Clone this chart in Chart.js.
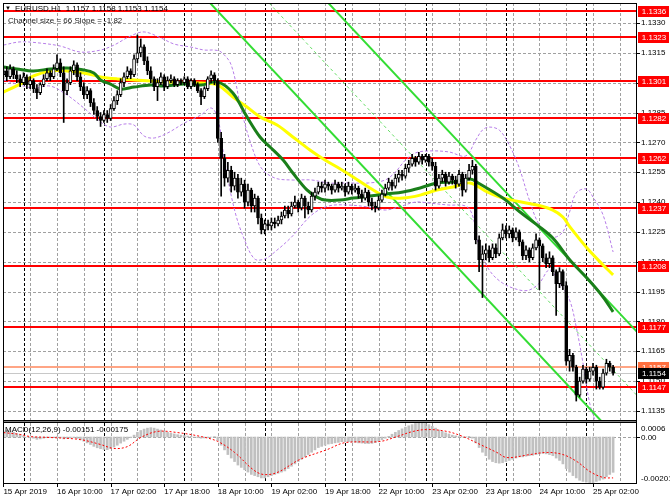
<!DOCTYPE html>
<html><head><meta charset="utf-8">
<script src="https://cdn.jsdelivr.net/npm/chart.js@4.4.1/dist/chart.umd.min.js"></script>
<style>html,body{margin:0;padding:0;background:#fff;overflow:hidden}canvas{display:block}</style>
</head><body>
<canvas id="c" width="670" height="502"></canvas>
<script>
// ---------- DATA ----------
const timeLabels = ["15 Apr 2019","16 Apr 10:00","17 Apr 02:00","17 Apr 18:00","18 Apr 10:00","19 Apr 02:00","19 Apr 18:00","22 Apr 10:00","23 Apr 02:00","23 Apr 18:00","24 Apr 10:00","25 Apr 02:00"];
const labelBars = [0,16,32,48,64,80,96,112,128,144,160,176];
const gridBars = [0,8,16,24,32,40,48,56,64,72,80,88,96,104,112,120,128,136,144,152,160,168,176,184];
const daySeparators = [6,30,54,78,102,126,150,174];
const priceTicks = [1.1135,1.1150,1.1165,1.1180,1.1195,1.1210,1.1225,1.1240,1.1255,1.1270,1.1285,1.1300,1.1315,1.1330];
const levels = [1.1336,1.1323,1.1301,1.1282,1.1262,1.1237,1.1208,1.1177,1.1147];
const askLine = 1.1157;
const bidLine = 1.1154;

const opens = [1.1304,1.1306,1.1303,1.1307,1.1304,1.1302,1.1300,1.1303,1.1299,1.1301,
1.1297,1.1295,1.1299,1.1302,1.1305,1.1303,1.1307,1.1310,1.1305,1.1296,
1.1300,1.1306,1.1309,1.1303,1.1298,1.1294,1.1296,1.1290,1.1286,1.1283,
1.1281,1.1284,1.1282,1.1287,1.1291,1.1294,1.1300,1.1303,1.1306,1.1304,
1.1312,1.1315,1.1318,1.1311,1.1306,1.1302,1.1298,1.1300,1.1303,1.1298,
1.1301,1.1302,1.1299,1.1301,1.1300,1.1302,1.1298,1.1301,1.1299,1.1296,
1.1293,1.1297,1.1302,1.1304,1.1301,1.1272,1.1262,1.1252,1.1256,1.1248,
1.1252,1.1245,1.1249,1.1240,1.1246,1.1238,1.1242,1.1232,1.1226,1.1229,
1.1228,1.1230,1.1229,1.1231,1.1233,1.1236,1.1234,1.1238,1.1240,1.1237,
1.1242,1.1238,1.1236,1.1243,1.1245,1.1248,1.1247,1.1249,1.1248,1.1246,
1.1249,1.1247,1.1248,1.1245,1.1248,1.1246,1.1247,1.1244,1.1242,1.1245,
1.1240,1.1238,1.1237,1.1241,1.1244,1.1247,1.1250,1.1248,1.1252,1.1254,
1.1253,1.1257,1.1259,1.1262,1.1260,1.1263,1.1261,1.1263,1.1260,1.1258,
1.1248,1.1252,1.1254,1.1250,1.1253,1.1251,1.1249,1.1254,1.1246,1.1252,
1.1256,1.1258,1.1221,1.1211,1.1214,1.1216,1.1212,1.1217,1.1214,1.1222,
1.1226,1.1224,1.1226,1.1222,1.1225,1.1220,1.1213,1.1216,1.1212,1.1217,
1.1221,1.1218,1.1212,1.1209,1.1212,1.1205,1.1199,1.1205,1.1198,1.1160,
1.1163,1.1157,1.1143,1.1150,1.1156,1.1151,1.1155,1.1157,1.1150,1.1147,
1.1154,1.1159,1.1157];
const highs = [1.1308,1.1308,1.1309,1.1308,1.1306,1.1304,1.1305,1.1304,1.1303,1.1302,
1.1299,1.1300,1.1304,1.1307,1.1306,1.1309,1.1314,1.1312,1.1308,1.1302,
1.1308,1.1311,1.1310,1.1305,1.1300,1.1298,1.1297,1.1292,1.1288,1.1285,
1.1286,1.1286,1.1289,1.1293,1.1296,1.1302,1.1305,1.1308,1.1307,1.1314,
1.1324,1.1322,1.1319,1.1313,1.1308,1.1303,1.1302,1.1305,1.1304,1.1303,
1.1304,1.1303,1.1302,1.1302,1.1303,1.1303,1.1302,1.1302,1.1300,1.1297,
1.1298,1.1303,1.1306,1.1305,1.1302,1.1275,1.1264,1.1260,1.1258,1.1255,
1.1254,1.1252,1.1251,1.1249,1.1247,1.1244,1.1243,1.1234,1.1231,1.1231,
1.1232,1.1232,1.1233,1.1235,1.1238,1.1238,1.1240,1.1243,1.1241,1.1244,
1.1243,1.1240,1.1245,1.1247,1.1250,1.1250,1.1251,1.1250,1.1249,1.1251,
1.1250,1.1250,1.1249,1.1250,1.1249,1.1249,1.1248,1.1246,1.1247,1.1246,
1.1242,1.1240,1.1243,1.1246,1.1249,1.1252,1.1251,1.1254,1.1256,1.1256,
1.1259,1.1261,1.1264,1.1263,1.1265,1.1264,1.1264,1.1264,1.1262,1.1260,
1.1254,1.1256,1.1255,1.1255,1.1254,1.1253,1.1256,1.1255,1.1254,1.1259,
1.1261,1.1259,1.1223,1.1218,1.1219,1.1218,1.1219,1.1219,1.1224,1.1229,
1.1228,1.1228,1.1227,1.1227,1.1226,1.1221,1.1218,1.1217,1.1219,1.1224,
1.1222,1.1219,1.1214,1.1215,1.1213,1.1206,1.1207,1.1206,1.1200,1.1166,
1.1164,1.1158,1.1152,1.1158,1.1157,1.1157,1.1159,1.1158,1.1152,1.1156,
1.1161,1.1160,1.1158];
const lows = [1.1302,1.1301,1.1302,1.1302,1.1300,1.1298,1.1299,1.1297,1.1297,1.1295,
1.1292,1.1294,1.1298,1.1301,1.1301,1.1302,1.1306,1.1303,1.1280,1.1294,
1.1299,1.1304,1.1301,1.1296,1.1292,1.1292,1.1288,1.1284,1.1281,1.1278,
1.1280,1.1280,1.1281,1.1286,1.1289,1.1293,1.1298,1.1302,1.1302,1.1303,
1.1310,1.1313,1.1309,1.1304,1.1300,1.1296,1.1291,1.1299,1.1296,1.1297,
1.1300,1.1298,1.1298,1.1299,1.1299,1.1297,1.1297,1.1298,1.1295,1.1289,
1.1292,1.1296,1.1300,1.1299,1.1270,1.1243,1.1248,1.1250,1.1245,1.1246,
1.1242,1.1243,1.1237,1.1238,1.1235,1.1235,1.1229,1.1224,1.1224,1.1226,
1.1226,1.1227,1.1228,1.1229,1.1232,1.1232,1.1233,1.1237,1.1235,1.1236,
1.1232,1.1234,1.1235,1.1241,1.1244,1.1245,1.1245,1.1246,1.1244,1.1245,
1.1245,1.1246,1.1243,1.1244,1.1244,1.1245,1.1242,1.1240,1.1241,1.1238,
1.1236,1.1235,1.1236,1.1240,1.1243,1.1246,1.1246,1.1247,1.1250,1.1251,
1.1252,1.1255,1.1258,1.1258,1.1259,1.1259,1.1260,1.1258,1.1256,1.1246,
1.1247,1.1250,1.1248,1.1249,1.1249,1.1247,1.1248,1.1243,1.1245,1.1251,
1.1254,1.1219,1.1205,1.1192,1.1211,1.1210,1.1211,1.1212,1.1213,1.1221,
1.1222,1.1222,1.1220,1.1221,1.1218,1.1211,1.1211,1.1210,1.1211,1.1216,
1.1196,1.1210,1.1207,1.1207,1.1203,1.1183,1.1197,1.1196,1.1158,1.1155,
1.1155,1.1140,1.1142,1.1149,1.1149,1.1150,1.1153,1.1146,1.1146,1.1146,
1.1153,1.1155,1.1153];
const closes = [1.1306,1.1303,1.1307,1.1304,1.1302,1.1300,1.1303,1.1299,1.1301,1.1297,
1.1295,1.1299,1.1302,1.1305,1.1303,1.1307,1.1310,1.1305,1.1296,1.1300,
1.1306,1.1309,1.1303,1.1298,1.1294,1.1296,1.1290,1.1286,1.1283,1.1281,
1.1284,1.1282,1.1287,1.1291,1.1294,1.1300,1.1303,1.1306,1.1304,1.1312,
1.1315,1.1318,1.1311,1.1306,1.1302,1.1298,1.1300,1.1303,1.1298,1.1301,
1.1302,1.1299,1.1301,1.1300,1.1302,1.1298,1.1301,1.1299,1.1296,1.1293,
1.1297,1.1302,1.1304,1.1301,1.1272,1.1262,1.1252,1.1256,1.1248,1.1252,
1.1245,1.1249,1.1240,1.1246,1.1238,1.1242,1.1232,1.1226,1.1229,1.1228,
1.1230,1.1229,1.1231,1.1233,1.1236,1.1234,1.1238,1.1240,1.1237,1.1242,
1.1238,1.1236,1.1243,1.1245,1.1248,1.1247,1.1249,1.1248,1.1246,1.1249,
1.1247,1.1248,1.1245,1.1248,1.1246,1.1247,1.1244,1.1242,1.1245,1.1240,
1.1238,1.1237,1.1241,1.1244,1.1247,1.1250,1.1248,1.1252,1.1254,1.1253,
1.1257,1.1259,1.1262,1.1260,1.1263,1.1261,1.1263,1.1260,1.1258,1.1248,
1.1252,1.1254,1.1250,1.1253,1.1251,1.1249,1.1254,1.1246,1.1252,1.1256,
1.1258,1.1221,1.1211,1.1214,1.1216,1.1212,1.1217,1.1214,1.1222,1.1226,
1.1224,1.1226,1.1222,1.1225,1.1220,1.1213,1.1216,1.1212,1.1217,1.1221,
1.1218,1.1212,1.1209,1.1212,1.1205,1.1199,1.1205,1.1198,1.1160,1.1163,
1.1157,1.1143,1.1150,1.1156,1.1151,1.1155,1.1157,1.1150,1.1147,1.1154,
1.1159,1.1157,1.1154];

// moving averages read at sample bars: [bar, price]
const yellowMA = [[0,1.12953],[5,1.12993],[9,1.13034],[14,1.13059],[19,1.13059],[24,1.13049],[29,1.13029],[34,1.13019],[39,1.13014],[44,1.13009],[49,1.13003],[59,1.12998],[64,1.12988],[68.5,1.12928],[72.7,1.12878],[76.6,1.12828],[81.7,1.12787],[86.4,1.12727],[91.5,1.12662],[96,1.12611],[99.6,1.12576],[104.4,1.12526],[109.4,1.12471],[114.5,1.12425],[119.3,1.12420],[124.4,1.12435],[129.4,1.12461],[134.2,1.12476],[139.3,1.12496],[144.4,1.12451],[149.1,1.12420],[159.3,1.12385],[164,1.12360],[167,1.12325],[169.1,1.12275],[174.2,1.12169],[179,1.12084],[182,1.12034]];
const greenMA = [[0,1.13079],[4,1.13069],[9,1.13059],[14,1.13069],[19,1.13074],[24,1.13064],[27,1.13049],[29,1.13014],[32,1.12993],[35,1.12968],[39,1.12978],[44,1.12988],[48,1.12983],[54,1.12993],[59,1.12988],[64,1.13003],[68.5,1.12948],[72.7,1.12828],[76.6,1.12727],[79.6,1.12677],[83.5,1.12611],[86.4,1.12546],[90.6,1.12461],[93.6,1.12425],[96,1.12410],[100.5,1.12410],[104.4,1.12420],[109.4,1.12430],[114.5,1.12441],[119.3,1.12451],[124.4,1.12471],[129.4,1.12496],[134.2,1.12501],[139.3,1.12516],[141.7,1.12496],[149.1,1.12420],[154.2,1.12350],[159.3,1.12285],[164,1.12219],[169.1,1.12109],[174.2,1.12018],[179,1.11923],[182,1.11848]];
const bandUpper = [[0,1.13189],[5,1.13205],[11,1.13199],[17,1.13184],[23,1.13154],[29,1.13164],[33,1.13189],[38,1.13235],[42,1.13255],[47,1.13225],[51,1.13194],[56,1.13179],[60,1.13164],[63,1.13164],[65,1.13154],[68,1.13089],[71,1.12863],[74,1.12687],[77,1.12571],[81,1.12521],[86,1.12511],[92,1.12511],[97,1.12496],[103,1.12496],[109,1.12496],[114,1.12511],[117,1.12551],[120,1.12611],[123,1.12647],[127,1.12657],[133,1.12652],[138,1.12632],[141,1.12712],[143,1.12762],[145,1.12777],[148,1.12762],[151,1.12687],[154,1.12571],[157,1.12410],[160,1.12285],[164,1.12224],[167,1.12250],[169,1.12350],[171,1.12446],[174,1.12466],[176,1.12425],[179,1.12335],[182,1.12149]];
const bandLower = [[0,1.13014],[4,1.12993],[9,1.12973],[14,1.12983],[19,1.12938],[24,1.12873],[29,1.12802],[32,1.12777],[36,1.12792],[39,1.12787],[42,1.12732],[45,1.12722],[49,1.12747],[54,1.12797],[59,1.12838],[62,1.12873],[64,1.12823],[66,1.12611],[69,1.12360],[72,1.12209],[75,1.12114],[78,1.12114],[81,1.12149],[86,1.12224],[92,1.12335],[97,1.12380],[103,1.12385],[109,1.12375],[114,1.12360],[118,1.12375],[123,1.12400],[127,1.12395],[133,1.12385],[138,1.12380],[140,1.12335],[142,1.12174],[145,1.12059],[149,1.11993],[154,1.11958],[157,1.11958],[160,1.11993],[163,1.12059],[166,1.11993],[169,1.11908],[171,1.11772],[173,1.11591],[175,1.11390],[177,1.11280]];
// regression channel end points: [bar, price]
const channelUpper = [[97,1.1340],[189,1.1175]];
const channelMiddle = [[79.3,1.1340],[189,1.1143]];
const channelLower = [[61.7,1.1340],[189,1.1111]];

const macdHist = [0.00025,0.0003,0.00025,0.0002,
0.00015,0.0001,0.00005,0,-0.00003,
-0.00005,-0.0001,-0.00008,-0.00005,-0.00003,-0.00002,0,
0.00002,-0.00002,-0.00008,-0.00006,-0.00004,-0.00003,-0.00006,
-0.00012,-0.00018,-0.00025,-0.00032,-0.0004,-0.00046,
-0.0005,-0.00053,-0.00054,-0.0005,-0.00043,
-0.00035,-0.00026,-0.00018,-0.0001,-0.00003,
0.00008,0.0002,0.00028,0.00034,0.00038,0.0004,
0.00038,0.00034,0.0003,0.00025,0.0002,
0.00016,0.00013,0.0001,0.00008,0.00006,0.00004,0.00003,
0,-0.00003,-0.00005,-0.00004,-0.00002,0,0.00002,
-0.00015,-0.00035,-0.00055,-0.00075,-0.0009,-0.00105,-0.0012,
-0.0013,-0.0014,-0.0015,-0.0016,-0.00165,-0.0017,-0.00175,
-0.00175,-0.0017,-0.00165,-0.0016,-0.00155,-0.0015,-0.00145,
-0.00135,-0.00125,-0.00115,-0.00105,-0.00095,-0.00085,-0.00075,-0.00065,
-0.00055,-0.00045,-0.0004,-0.00035,-0.0003,-0.00028,-0.00025,-0.00023,
-0.0002,-0.0002,-0.0002,-0.00022,-0.00023,-0.00025,-0.00026,-0.00028,-0.00028,-0.00027,
-0.00024,-0.00018,-0.00012,-0.00005,0.00003,0.00012,0.0002,
0.00028,0.00035,0.00042,0.00048,0.00053,0.00058,0.0006,
0.0006,0.00058,0.00053,0.00046,0.00038,0.0003,0.00024,
0.00018,0.00013,0.00008,0.00005,0.00002,0,0.00001,0.00003,
-0.00005,-0.00025,-0.00045,-0.00065,-0.0008,-0.00095,-0.00105,-0.0011,
-0.00112,-0.0011,-0.00105,-0.001,-0.00095,-0.0009,-0.00085,
-0.00085,-0.00082,-0.0008,-0.00078,-0.00075,-0.00072,-0.0007,
-0.00072,-0.00075,-0.0008,-0.0009,-0.001,-0.00115,
-0.00135,-0.0015,-0.00165,-0.00175,-0.00185,-0.0019,-0.00193,
-0.00195,-0.00195,-0.0019,-0.00185,-0.0018,-0.0017,-0.0016,-0.00151];
const macdSignal = [[0,0.00019],[5,0.00011],[8,0.00002],[14,-0.00002],[23,-0.00011],[29,-0.00032],[33,-0.00049],[37,-0.00041],[41,-0.00002],[46,0.00024],[52,0.00019],[59,0.00002],[64,-0.00019],[69,-0.00066],[74.5,-0.00139],[77.5,-0.0016],[81.7,-0.00152],[88.5,-0.00096],[96.6,-0.00054],[102,-0.00024],[112.4,-0.00019],[117.5,0.00002],[122.3,0.00024],[126.5,0.00032],[132.4,0.00024],[137.2,0.00002],[142.3,-0.00032],[147.3,-0.00066],[150.3,-0.00088],[157.2,-0.00075],[162.3,-0.00066],[167,-0.00075],[171.2,-0.00105],[175.1,-0.00148],[179,-0.00173],[182,-0.00175]];

// ---------- CHART ----------
const FONT = '"Liberation Sans", Arial, sans-serif';
Chart.defaults.font.family = FONT;
Chart.defaults.font.size = 8;
Chart.defaults.color = '#000';

const pts = a => a.map(([x, y]) => ({x, y}));
const priceClip = {left: 0, top: 0, right: 0, bottom: -64};
const macdClip = {left: 0, top: -420, right: 0, bottom: 0};

const wickData = closes.map((c, i) => ({x: i, y: [lows[i], highs[i]]}));
const bodyData = closes.map((c, i) => ({x: i, y: [opens[i], c]}));
const bodyFill = closes.map((c, i) => c >= opens[i] ? '#ffffff' : '#000000');

const lineDS = (data, color, width, dash, order, axis, clip, tension) => ({
  type: 'line', data: pts(data), borderColor: color, borderWidth: width, borderDash: dash || [],
  pointRadius: 0, fill: false, tension: tension, order: order, yAxisID: axis || 'y', clip: clip || priceClip
});

const PRICE_MAX = 1.134005, PRICE_MIN = 1.10983;
const MACD_MAX = 0.018572, MACD_MIN = -0.00201;

function dashV(ctx, px, y0, y1, on, off) { for (let yy = y0; yy < y1; yy += on + off) ctx.fillRect(px, yy, 1, Math.min(on, y1 - yy)); }
function dashH(ctx, py, x0, x1, on, off) { for (let xx = x0; xx < x1; xx += on + off) ctx.fillRect(xx, py, Math.min(on, x1 - xx), 1); }

function drawGrid(chart) {
  const ctx = chart.ctx, a = chart.chartArea, sx = chart.scales.x, sy = chart.scales.y, s2 = chart.scales.y2;
  ctx.save();
  ctx.fillStyle = '#a0a0a0';
  gridBars.forEach(i => dashV(ctx, Math.round(sx.getPixelForValue(i)), a.top, a.bottom, 3, 2));
  priceTicks.forEach(v => dashH(ctx, Math.round(sy.getPixelForValue(v)), a.left, a.right, 3, 2));
  dashH(ctx, Math.round(s2.getPixelForValue(0)), a.left, a.right, 3, 2);
  ctx.fillStyle = '#000000';
  daySeparators.forEach(i => dashV(ctx, Math.round(sx.getPixelForValue(i)), a.top, a.bottom, 3, 2));
  priceTicks.forEach(v => ctx.fillRect(a.right, Math.round(sy.getPixelForValue(v)), 3, 1));
  labelBars.forEach(i => ctx.fillRect(Math.round(sx.getPixelForValue(i)), a.bottom, 1, 3));
  ctx.restore();
}

const annot = {
  id: 'annot',
  beforeDatasetsDraw(chart) {
    const {ctx, chartArea: a, scales: {y}} = chart;
    drawGrid(chart);
    ctx.save();
    ctx.fillStyle = '#c8c8c8';
    ctx.fillRect(a.left, Math.round(y.getPixelForValue(bidLine)), a.right - a.left, 1);
    ctx.fillStyle = '#ffa585';
    ctx.fillRect(a.left, Math.round(y.getPixelForValue(askLine)) - 1, a.right - a.left, 2);
    ctx.fillStyle = '#ff0000';
    levels.forEach(v => {
      const py = Math.round(y.getPixelForValue(v));
      ctx.fillRect(a.left, py - 1, a.right - a.left, 2);
    });
    ctx.restore();
  },
  afterDraw(chart) {
    const {ctx, chartArea: a, scales: {y, y2}} = chart;
    ctx.save();
    const sepTop = a.bottom - 64;
    ctx.fillStyle = '#000'; ctx.fillRect(a.left, sepTop, a.right - a.left, 1);
    ctx.fillStyle = '#808080'; ctx.fillRect(a.left, sepTop + 1, a.right - a.left, 1);
    ctx.fillStyle = '#000'; ctx.fillRect(a.left, sepTop + 2, a.right - a.left, 1);
    ctx.strokeStyle = '#000'; ctx.lineWidth = 1; ctx.setLineDash([]);
    ctx.strokeRect(a.left + 0.5, a.top + 0.5, a.right - a.left - 1, a.bottom - a.top - 1);
    ctx.font = '8px ' + FONT;
    ctx.textBaseline = 'middle';
    ctx.fillStyle = '#fff'; ctx.fillRect(a.right + 1, sepTop - 1, 32, 66);
    ctx.fillStyle = '#000'; ctx.textAlign = 'left';
    ctx.fillText('0.0006', a.right + 4, sepTop + 9);
    ctx.fillText('0.00', a.right + 4, Math.round(y2.getPixelForValue(0)) + 1);
    ctx.fillText('-0.00201', a.right + 4, a.bottom - 5);
    ctx.fillRect(a.right, Math.round(y2.getPixelForValue(0)), 3, 1);
    ctx.textAlign = 'center';
    const box = (v, bg) => {
      const py = Math.round(y.getPixelForValue(v));
      ctx.fillStyle = bg; ctx.fillRect(a.right + 1, py - 5, 31, 11);
      ctx.fillStyle = '#fff'; ctx.fillText(v.toFixed(4), a.right + 17, py + 1);
    };
    levels.forEach(v => box(v, '#ff0000'));
    box(askLine, '#ff7040');
    box(bidLine, '#000000');
    ctx.textAlign = 'left'; ctx.fillStyle = '#000';
    ctx.font = '6px ' + FONT; ctx.fillText('\u25BC', a.left + 2, a.top + 5);
    ctx.font = '8px ' + FONT;
    ctx.fillText('EURUSD,H1  1.1157 1.1158 1.1153 1.1154', a.left + 12, a.top + 6);
    ctx.fillStyle = '#222';
    ctx.fillText('Channel size = 66 Slope = -1.82', a.left + 5, a.top + 18);
    ctx.fillStyle = '#000';
    ctx.fillText('MACD(12,26,9) -0.00151 -0.00175', a.left + 2, sepTop + 10);
    ctx.restore();
  }
};

new Chart(document.getElementById('c'), {
  type: 'line',
  data: {
    datasets: [
      {type: 'bar', data: bodyData, backgroundColor: bodyFill, borderColor: '#000', borderWidth: 1,
       borderSkipped: false, barThickness: 3, minBarLength: 1, grouped: false, order: 1, yAxisID: 'y', clip: priceClip},
      {type: 'bar', data: wickData, backgroundColor: '#000', borderWidth: 0,
       barThickness: 1, grouped: false, order: 2, yAxisID: 'y', clip: priceClip},
      lineDS(greenMA, '#1a7f1a', 3, null, 3, 'y', priceClip, 0.35),
      lineDS(yellowMA, '#ffff00', 3, null, 4, 'y', priceClip, 0.35),
      lineDS(channelUpper, '#33dd33', 2, null, 5, 'y', priceClip, 0),
      lineDS(channelLower, '#33dd33', 2, null, 5, 'y', priceClip, 0),
      lineDS(channelMiddle, '#66dd66', 1, [3, 3], 5, 'y', priceClip, 0),
      lineDS(bandUpper, '#b77ee8', 1, [3, 2], 6, 'y', priceClip, 0.35),
      lineDS(bandLower, '#b77ee8', 1, [3, 2], 6, 'y', priceClip, 0.35),
      lineDS(macdSignal, '#ff0000', 1, [2, 2], 7, 'y2', macdClip, 0.35),
      {type: 'bar', data: macdHist.map((v, i) => ({x: i, y: v})), backgroundColor: '#c0c0c0', borderWidth: 0,
       barThickness: 2, grouped: false, order: 8, yAxisID: 'y2', clip: macdClip}
    ]
  },
  options: {
    responsive: false, animation: false, events: [],
    layout: {padding: {left: 3, top: 3, right: 0, bottom: 0}},
    plugins: {legend: {display: false}, tooltip: {enabled: false}},
    scales: {
      x: {
        type: 'linear', min: -0.12, max: 189.13, offset: false, position: 'bottom',
        afterBuildTicks: s => { s.ticks = labelBars.map(v => ({value: v})); },
        afterFit: s => { s.height = 18; s.paddingLeft = 0; s.paddingRight = 0; },
        grid: {display: false},
        border: {display: false},
        ticks: {
          autoSkip: false, maxRotation: 0, minRotation: 0, align: 'start', padding: -5,
          font: {size: 8, family: FONT}, color: '#000',
          callback: v => { const k = labelBars.indexOf(v); return k >= 0 ? timeLabels[k] : ''; }
        }
      },
      y: {
        type: 'linear', position: 'right', min: PRICE_MIN, max: PRICE_MAX,
        afterBuildTicks: s => { s.ticks = priceTicks.map(v => ({value: v})); },
        afterFit: s => { s.width = 33; s.paddingTop = 0; s.paddingBottom = 0; },
        grid: {display: false},
        border: {display: false},
        ticks: {autoSkip: false, padding: -4, font: {size: 8, family: FONT}, color: '#000',
          callback: v => v.toFixed(4)}
      },
      y2: {type: 'linear', display: false, position: 'right', min: MACD_MIN, max: MACD_MAX}
    }
  },
  plugins: [annot]
});
</script>
</body></html>
